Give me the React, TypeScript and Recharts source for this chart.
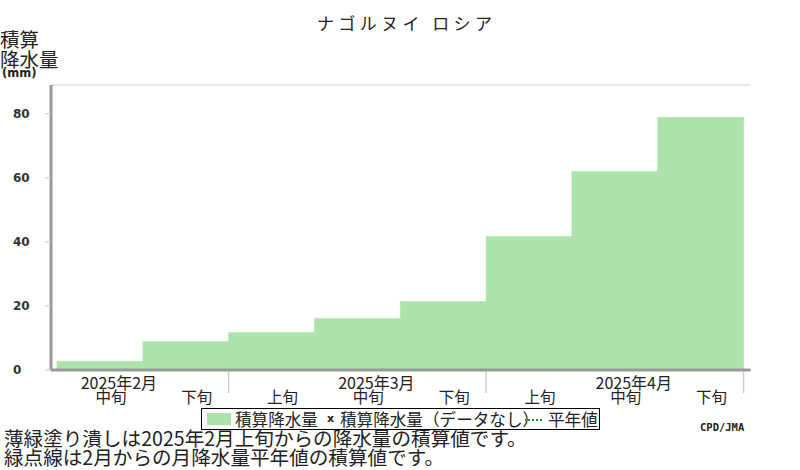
import React from "react";
import { ComposedChart, Bar, XAxis, YAxis, CartesianGrid } from "recharts";

const dekads = ["中旬", "下旬", "上旬", "中旬", "下旬", "上旬", "中旬", "下旬"];
const monthLabels = ["2025年2月", "", "", "2025年3月", "", "", "2025年4月", ""];
const accumulated = [2.7, 8.9, 11.7, 16.1, 21.4, 41.7, 62.0, 78.9];
const yTicks = [0, 20, 40, 60, 80];

const data = dekads.map((d, i) => ({ idx: i, value: accumulated[i] }));

const JP = '"Noto Sans CJK JP", "Noto Sans", sans-serif';
const TXT = "#222";

const XTick = (props: any) => {
  const { x, y, payload } = props;
  const i = payload.value as number;
  const half = payload.offset ?? 43;
  const lines: number[] = [];
  if (dekads[i] === "上旬") lines.push(x - half);
  if (i === dekads.length - 1) lines.push(x + half);
  return (
    <g>
      {lines.map((lx, k) => (
        <line key={k} x1={lx} x2={lx} y1={y + 2} y2={y + 23} stroke="#cccccc" strokeWidth={1.5} />
      ))}
      {monthLabels[i] ? (
        <text x={x + 19} y={y + 12} textAnchor="middle" dominantBaseline="central" fontFamily={JP} fontSize={16} fill={TXT}>
          {monthLabels[i]}
        </text>
      ) : null}
      <text x={x + 11} y={y + 26} textAnchor="middle" dominantBaseline="central" fontFamily={JP} fontSize={15.5} fill={TXT}>
        {dekads[i]}
      </text>
    </g>
  );
};

const YTick = (props: any) => {
  const { y, payload } = props;
  return (
    <text x={13} y={y} textAnchor="start" dominantBaseline="central" fontFamily='"DejaVu Sans", sans-serif' fontWeight="bold" fontSize={12} fill="#333">
      {payload.value}
    </text>
  );
};

export default function App() {
  return (
    <div style={{ position: "absolute", left: 0, top: 0, width: 800, height: 470, background: "#fff", fontFamily: JP, color: TXT }}>
      <ComposedChart
        width={800}
        height={470}
        data={data}
        margin={{ top: 85, right: 49.5, bottom: 70, left: 0 }}
        barCategoryGap={0}
        barGap={0}
      >
        <CartesianGrid horizontal vertical={false} stroke="#d0d0d0" />
        <XAxis
          dataKey="idx"
          type="category"
          interval={0}
          height={30}
          tickSize={0}
          tickMargin={0}
          tickLine={false}
          axisLine={{ stroke: "#999999", strokeWidth: 3 }}
          padding={{ left: 6, right: 7 }}
          tick={<XTick />}
        />
        <YAxis
          yAxisId="l"
          width={51}
          domain={[0, 89]}
          ticks={yTicks}
          interval={0}
          tickSize={6}
          tickLine={{ stroke: "#cccccc" }}
          axisLine={{ stroke: "#999999", strokeWidth: 3 }}
          tick={<YTick />}
        />
        <YAxis
          yAxisId="r"
          orientation="right"
          width={0}
          domain={[0, 89]}
          tick={false}
          tickLine={false}
          axisLine={{ stroke: "#999999", strokeWidth: 3 }}
        />
        <Bar yAxisId="l" dataKey="value" fill="#abe3ab" stroke="#abe3ab" strokeWidth={0.5} isAnimationActive={false} />
      </ComposedChart>

      <div style={{ position: "absolute", left: 317, top: 14, fontSize: 17, lineHeight: "17px", letterSpacing: 4.4, whiteSpace: "nowrap" }}>
        ナゴルヌイ ロシア
      </div>

      <div style={{ position: "absolute", left: 0, top: 29, fontSize: 19.5, lineHeight: "20px", whiteSpace: "nowrap" }}>積算</div>
      <div style={{ position: "absolute", left: 0, top: 49, fontSize: 19.5, lineHeight: "20px", whiteSpace: "nowrap" }}>降水量</div>
      <div style={{ position: "absolute", left: 2, top: 67, fontSize: 11.5, lineHeight: "12px", fontWeight: "bold", fontFamily: '"DejaVu Sans", sans-serif', whiteSpace: "nowrap" }}>(mm)</div>

      <div style={{ position: "absolute", left: 201, top: 408, width: 397, height: 20, border: "1px solid #000", background: "#fff", fontSize: 16.6, lineHeight: "20px", whiteSpace: "nowrap" }}>
        <div style={{ position: "absolute", left: 5, top: 4, width: 24, height: 12, background: "#abe3ab" }} />
        <div style={{ position: "absolute", left: 33, top: 0 }}>積算降水量</div>
        <div style={{ position: "absolute", left: 125, top: 0, fontSize: 11, fontWeight: "bold", fontFamily: '"DejaVu Sans", sans-serif' }}>x</div>
        <div style={{ position: "absolute", left: 138, top: 0 }}>積算降水量（データなし）</div>
        <div style={{ position: "absolute", left: 323, top: 10, width: 17, height: 0, borderTop: "2px dotted #2a9a2a" }} />
        <div style={{ position: "absolute", left: 346, top: 0 }}>平年値</div>
      </div>

      <div style={{ position: "absolute", left: 700, top: 421, fontSize: 10.5, fontWeight: "bold", fontFamily: '"DejaVu Sans Mono", monospace', color: "#222", whiteSpace: "nowrap" }}>CPD/JMA</div>

      <div style={{ position: "absolute", left: 4, top: 428, fontSize: 19.6, lineHeight: "20px", whiteSpace: "nowrap" }}>
        薄緑塗り潰しは2025年2月上旬からの降水量の積算値です。
      </div>
      <div style={{ position: "absolute", left: 4, top: 447, fontSize: 19.6, lineHeight: "20px", whiteSpace: "nowrap" }}>
        緑点線は2月からの月降水量平年値の積算値です。
      </div>
    </div>
  );
}
